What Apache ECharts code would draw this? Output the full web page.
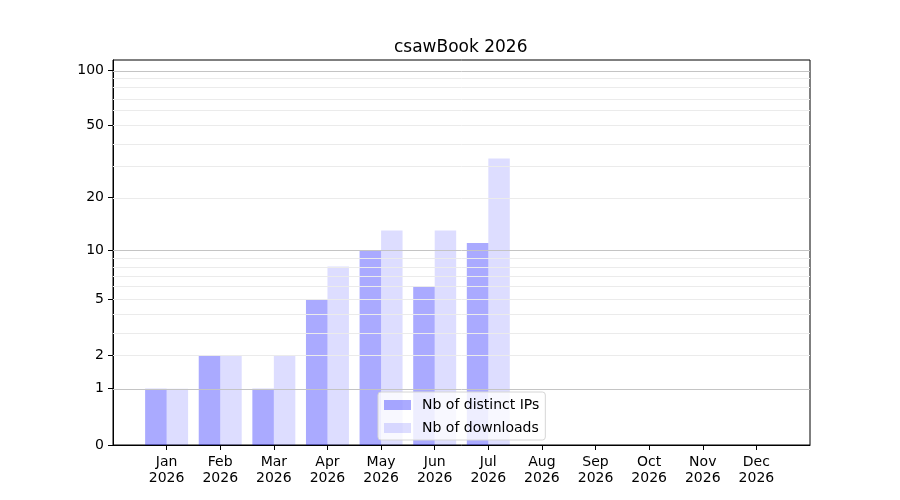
<!DOCTYPE html>
<html>
<head>
<meta charset="utf-8">
<script src="https://cdn.jsdelivr.net/npm/echarts@6/dist/echarts.min.js"></script>
<style>
html,body{margin:0;padding:0;background:#fff;}
#chart{width:900px;height:500px;}
</style>
</head>
<body>
<div id="chart"></div>
<script>
const titleText = 'csawBook 2026';
const months = ['Jan','Feb','Mar','Apr','May','Jun','Jul','Aug','Sep','Oct','Nov','Dec'];
const yearLabel = '2026';
const distinctIPs = [1, 2, 1, 5, 10, 6, 11, 0, 0, 0, 0, 0];
const downloads = [1, 2, 2, 8, 13, 13, 33, 0, 0, 0, 0, 0];
const yTickValues = [0, 1, 2, 5, 10, 20, 50, 100];
const majorGrid = [1, 10, 100];
const minorGrid = [2, 3, 4, 5, 6, 7, 8, 9, 20, 30, 40, 50, 60, 70, 80, 90];
const yMaxValue = 113.3;

const t = v => Math.log10(1 + v);
const FONT = 'DejaVu Sans';

const chart = echarts.init(document.getElementById('chart'), null, {renderer: 'canvas'});
const monthIdx = months.map((m, i) => i);

const gridLines = [
  ...minorGrid.map(v => ({yAxis: t(v), lineStyle: {color: '#ebebeb', width: 1, type: 'solid'}})),
  ...majorGrid.map(v => ({yAxis: t(v), lineStyle: {color: '#c4c4c4', width: 1, type: 'solid'}}))
];

chart.setOption({
  animation: false,
  backgroundColor: '#fff',
  title: {
    text: titleText,
    left: 394, top: 39, padding: 0,
    textStyle: {fontFamily: FONT, fontSize: 17, fontWeight: 'normal', color: '#000'}
  },
  grid: {left: 113, right: 90, top: 60, bottom: 55, show: true, borderColor: '#000', borderWidth: 1, backgroundColor: 'transparent'},
  legend: {
    orient: 'vertical',
    left: 378, top: 392,
    padding: [6, 6, 5, 6],
    itemWidth: 27, itemHeight: 10, itemGap: 9,
    icon: 'rect',
    backgroundColor: 'rgba(255,255,255,0.8)',
    borderColor: '#d6d6d6', borderWidth: 1, borderRadius: 3,
    textStyle: {fontFamily: FONT, fontSize: 14, color: '#000', padding: [0, 0, 0, 6]},
    data: ['Nb of distinct IPs', 'Nb of downloads']
  },
  xAxis: {
    type: 'value', min: -1, max: 12,
    axisLine: {show: true, onZero: false, lineStyle: {color: '#000'}},
    axisTick: {show: true, customValues: monthIdx, length: 5, lineStyle: {color: '#000', width: 1}},
    axisLabel: {
      customValues: monthIdx,
      formatter: v => months[Math.round(v)] + '\n' + yearLabel,
      fontFamily: FONT, fontSize: 14, color: '#000', lineHeight: 16, margin: 9
    },
    splitLine: {show: false}
  },
  yAxis: {
    type: 'value', min: 0, max: t(yMaxValue),
    axisLine: {show: true, onZero: false, lineStyle: {color: '#000'}},
    axisTick: {show: true, customValues: yTickValues.map(t), length: 5, lineStyle: {color: '#000', width: 1}},
    axisLabel: {
      customValues: yTickValues.map(t),
      formatter: v => String(Math.round(Math.pow(10, v) - 1)),
      fontFamily: FONT, fontSize: 14, color: '#000', margin: 9
    },
    splitLine: {show: false}
  },
  series: [
    {
      name: 'grid', type: 'line', data: [], z: 1, silent: true,
      markLine: {silent: true, symbol: 'none', label: {show: false}, animation: false, data: gridLines}
    },
    {
      name: 'Nb of distinct IPs', type: 'bar', z: 3,
      barWidth: 21.5, barGap: '0%',
      itemStyle: {color: 'rgba(0,0,255,0.333)'},
      data: distinctIPs.map((v, i) => [i, t(v)])
    },
    {
      name: 'Nb of downloads', type: 'bar', z: 3,
      barWidth: 21.5, barGap: '0%',
      itemStyle: {color: 'rgba(0,0,255,0.135)'},
      data: downloads.map((v, i) => [i, t(v)])
    }
  ]
});
</script>
</body>
</html>
